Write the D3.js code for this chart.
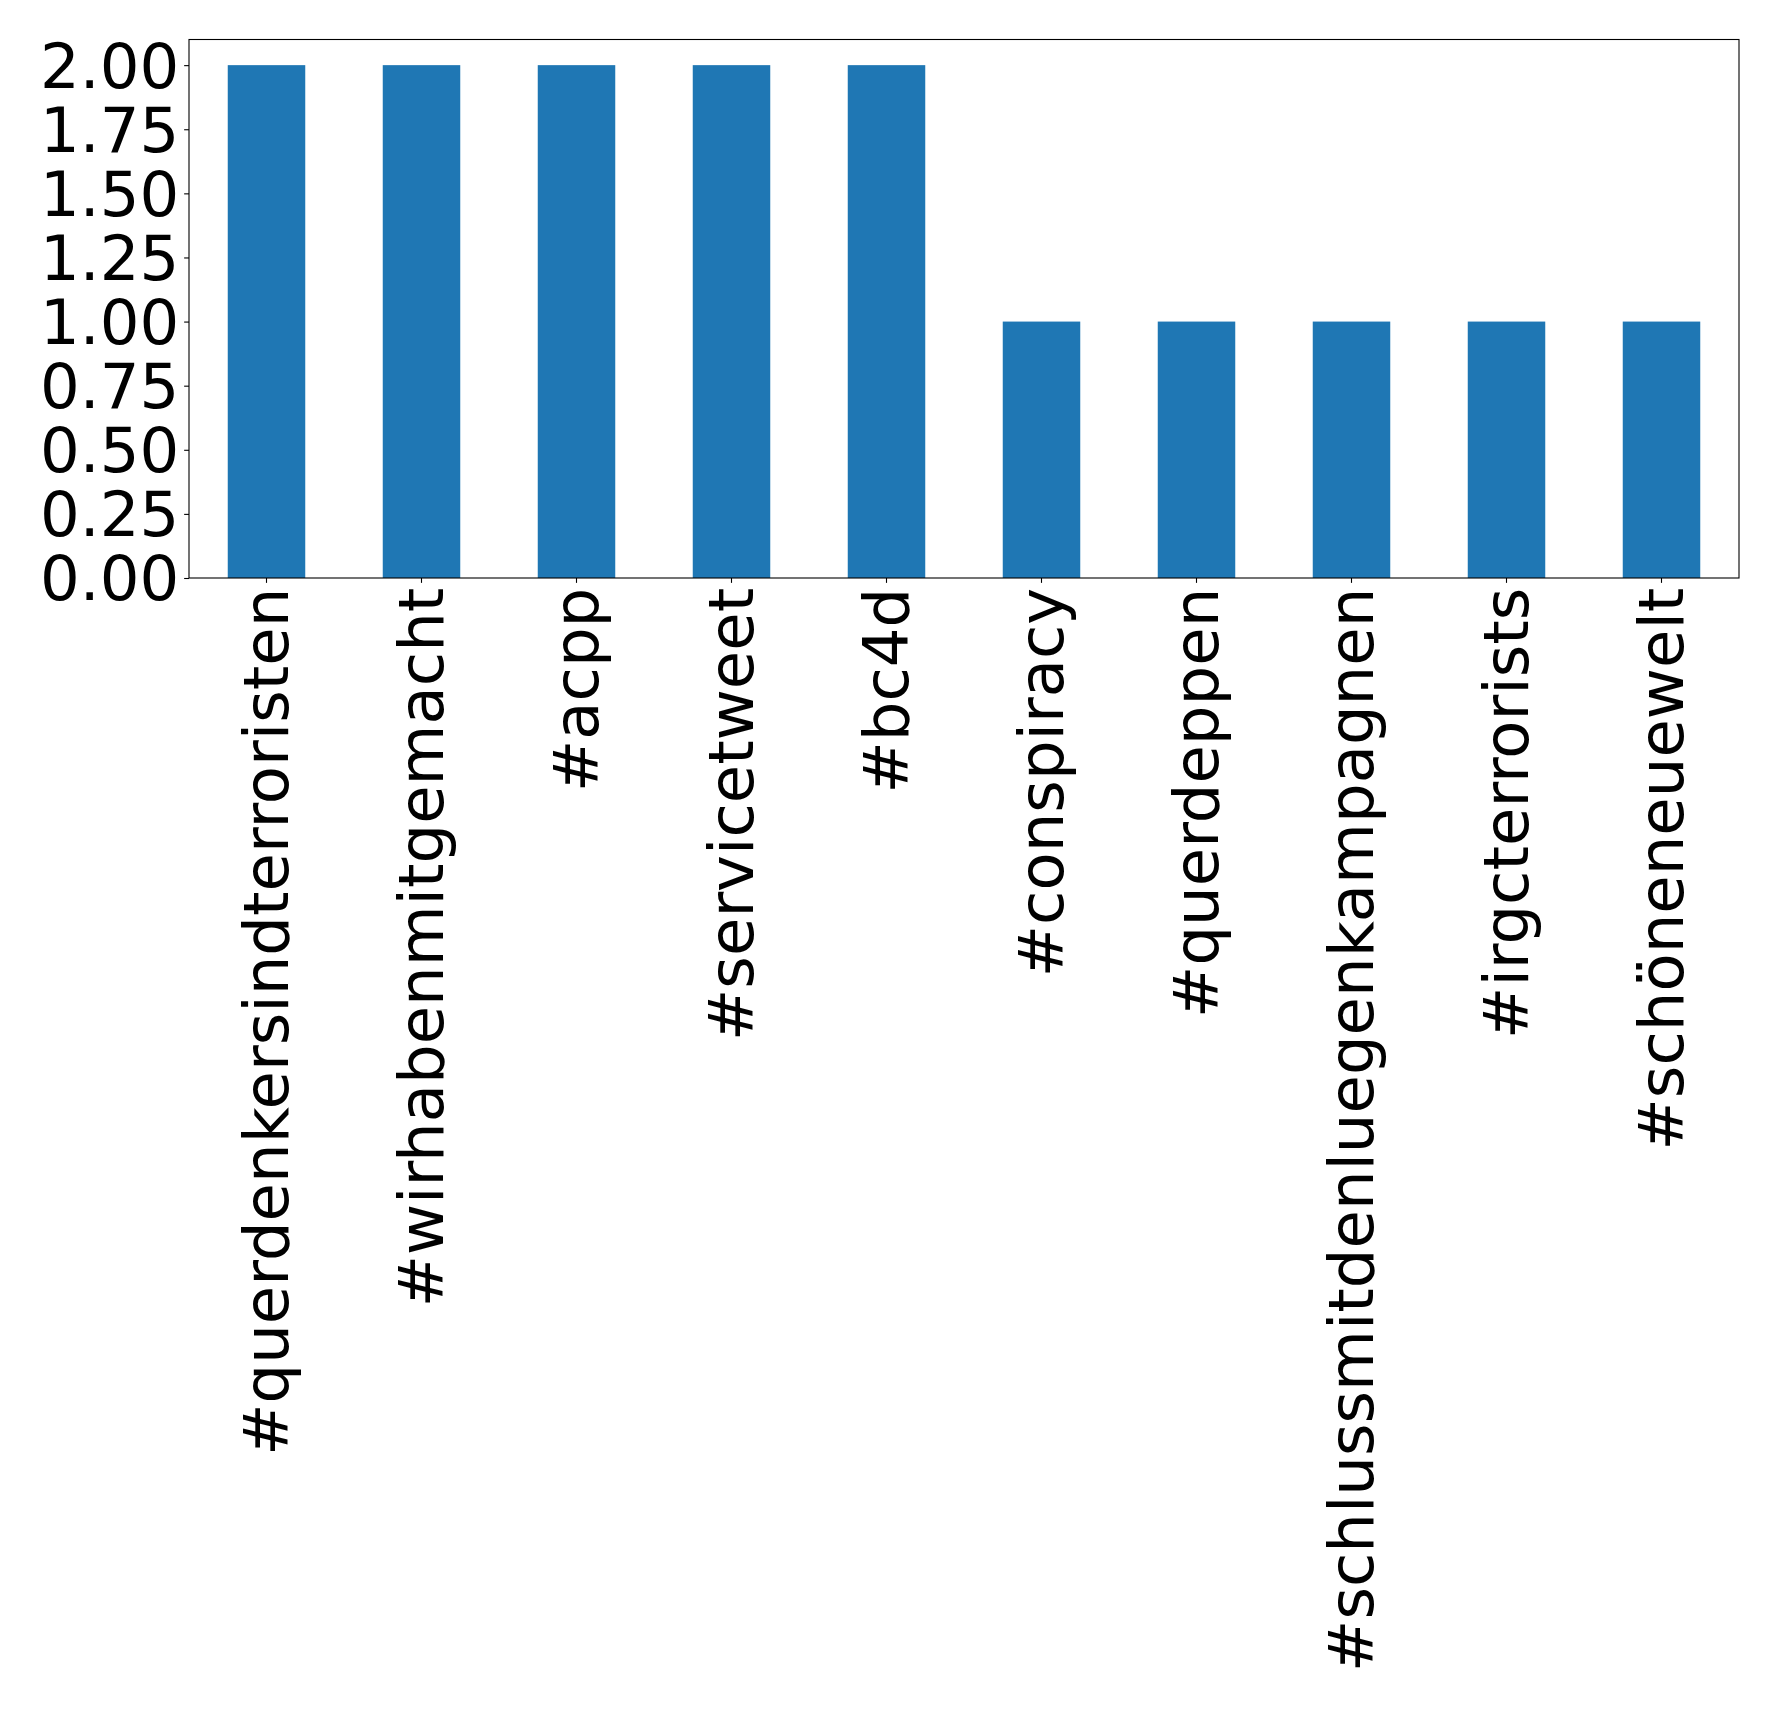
<!DOCTYPE html>
<html>
<head>
<meta charset="utf-8">
<script src="https://cdn.jsdelivr.net/npm/d3@7"></script>
<style>
  html, body { margin: 0; padding: 0; background: #fff; }
  svg { display: block; }
  text { font-family: "DejaVu Sans", sans-serif; fill: #000; }
</style>
</head>
<body>
<svg id="chart" width="1778" height="1711"></svg>
<script>
// hashtag counts
var hashtags = [
    "#querdenkersindterroristen",
    "#wirhabenmitgemacht",
    "#acpp",
    "#servicetweet",
    "#bc4d",
    "#conspiracy",
    "#querdeppen",
    "#schlussmitdenluegenkampagnen",
    "#irgcterrorists",
    "#schöneneuewelt"
];
var counts = [2, 2, 2, 2, 2, 1, 1, 1, 1, 1];
var yTicks = [0, 0.25, 0.5, 0.75, 1, 1.25, 1.5, 1.75, 2];

var width = 1778,
    height = 1711,
    marginLeft = 189,
    marginRight = 39,
    marginTop = 39.5,
    plotBottom = 578,
    tickLen = 4.86,
    tickPad = 4.86,
    fontSize = 62.5;

var svg = d3.select("#chart");

var x = d3.scaleBand()
    .domain(hashtags)
    .range([marginLeft, width - marginRight])
    .paddingInner(0.5)
    .paddingOuter(0.25);

var y = d3.scaleLinear()
    .domain([0, 2.1])
    .range([plotBottom, marginTop]);

// bars
svg.append("g")
    .selectAll("rect")
    .data(counts)
    .join("rect")
    .attr("x", function (d, i) { return x(hashtags[i]); })
    .attr("y", function (d) { return y(d); })
    .attr("width", x.bandwidth())
    .attr("height", function (d) { return y(0) - y(d); })
    .attr("fill", "#1f77b4");

// y axis
var yAxis = d3.axisLeft(y)
    .tickValues(yTicks)
    .tickFormat(d3.format(".2f"))
    .tickSize(tickLen)
    .tickPadding(tickPad);

var gy = svg.append("g")
    .attr("transform", "translate(" + marginLeft + ",0)")
    .call(yAxis);
gy.select(".domain").remove();
gy.selectAll(".tick line").attr("stroke", "#000").attr("stroke-width", 1.1);
gy.selectAll(".tick text")
    .attr("font-family", "DejaVu Sans")
    .attr("font-size", fontSize)
    .attr("dy", "0.35em")
    .attr("fill", "#000");

// x axis
var xAxis = d3.axisBottom(x)
    .tickSize(tickLen)
    .tickPadding(tickPad);

var gx = svg.append("g")
    .attr("transform", "translate(0," + plotBottom + ")")
    .call(xAxis);
gx.select(".domain").remove();
gx.selectAll(".tick line").attr("stroke", "#000").attr("stroke-width", 1.1);
gx.selectAll(".tick text")
    .attr("font-family", "DejaVu Sans")
    .attr("font-size", fontSize)
    .attr("fill", "#000")
    .attr("text-anchor", "end")
    .attr("x", 0)
    .attr("y", 0)
    .attr("dy", "0.35em")
    .attr("transform", "translate(0," + (tickLen + tickPad) + ") rotate(-90)");

// frame
svg.append("rect")
    .attr("x", marginLeft)
    .attr("y", marginTop)
    .attr("width", width - marginRight - marginLeft)
    .attr("height", plotBottom - marginTop)
    .attr("fill", "none")
    .attr("stroke", "#000")
    .attr("stroke-width", 1.1);
</script>
</body>
</html>
